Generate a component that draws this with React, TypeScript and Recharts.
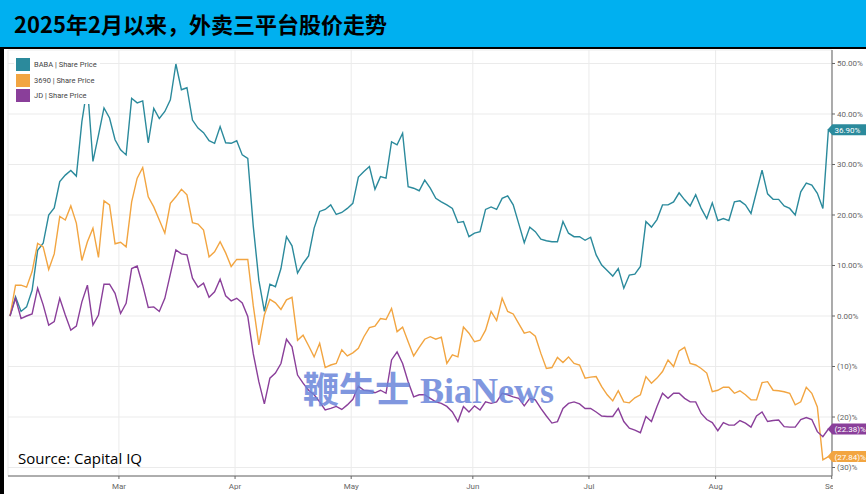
import React from "react";
import {
  LineChart,
  Line,
  XAxis,
  YAxis,
  CartesianGrid,
} from "recharts";

// one value per trading day, Feb 2025 -> 1 Sep 2025, % change since start
const babaValues = [
  0, 3.8, 0.9, 1.8, 5.1, 13, 14.4, 20, 21.4, 26.6, 27.9, 28.8, 27.7, 38.5, 45.5,
  30.6, 35.8, 41.2, 39.2, 34.9, 32.9, 31.9, 43.1, 42.2, 42.6, 34.3, 41.1, 39.1,
  40.5, 42.8, 49.9, 44.8, 45.2, 38.8, 37.2, 36.3, 34.7, 34.2, 37.5, 34.3, 34.2,
  34.7, 31.9, 31.2,
  17.7, 7.1, 0.9, 6.3, 5.8, 9.4, 15.7, 13.9, 8.5, 10.4, 11.9, 17.4, 20.7, 21.1,
  22.0, 20.1, 20.5, 21.3, 22.3, 27.5, 28.6, 29.6, 25.1, 27.6, 27.3, 34.5, 33.9,
  36.2, 25.6, 25.3, 24.8, 26.9, 25.3, 23.3, 22.6, 22.0, 21.3, 18.5, 18.7, 15.7,
  16.4, 16.7, 21.1, 21.6, 21.1, 23.3, 23.8, 22.0, 18.3, 14.5,
  17.6, 16.7, 15.2, 14.9, 14.7, 14.7, 18.7, 16.4, 15.7, 15.7, 15.0, 15.6, 12.1,
  10.1, 9.0, 7.9, 9.4, 5.5, 8.1, 8.3, 9.8, 18.7, 17.6, 19.1, 22.0, 22.0, 22.6,
  24.4, 23.0, 21.8, 24.0, 21.3, 19.3, 22.4, 18.9, 19.3, 18.9, 22.6, 22.8, 22.0,
  20.3, 24.6, 28.9, 24.2, 23.1, 23.1, 21.8, 21.3, 20.0, 24.6, 26.3, 25.9, 24.3,
  21.3, 36.9,
];

const meituanValues = [
  0, 6.1, 6.1, 5.7, 8.8, 14.4, 13.7, 9.2, 12.3, 19.7, 19.0, 21.8, 18.4, 11.0,
  14.7, 17.4, 11.6, 22.8, 22.0, 14.3, 14.6, 13.7, 22.6, 27.3, 29.4, 23.6, 21.6,
  19.0, 16.4, 22.3, 23.6, 25.1, 24.0, 18.5, 18.2, 17.0, 11.7, 12.7, 14.7, 12.5,
  9.8, 11.2, 11.2, 11.2,
  2.0, -5.7, 0.2, 3.3, 2.6, 1.3, 3.2, 3.7, -4.8, -3.8, -5.9, -8.1, -5.4, -10.2,
  -9.7, -9.4, -6.7, -7.9, -7.3, -6.4, -4.1, -2.3, -2.0, -0.5, -0.7, 1.5, -3.1,
  -2.2, -5.1, -7.9, -6.2, -4.6, -4.1, -4.6, -4.2, -9.4, -7.7, -8.1, -2.2, -3.4,
  -5.1, -4.8, -2.8, 0.9, -0.9, 3.5, 0.9, 0.4, -1.5, -3.4,
  -3.1, -4.0, -7.4, -10.4, -10.2, -8.2, -9.2, -8.1, -9.4, -9.7, -12.3, -12.1,
  -12.0, -14.0, -15.6, -16.8, -14.8, -17.0, -17.2, -16.2, -15.6, -12.0, -13.3,
  -12.3, -11.0, -8.7, -10.0, -6.9, -6.2, -9.4, -9.7, -10.4, -11.3, -15.0, -14.7,
  -14.1, -14.1, -15.3, -14.8, -15.6, -16.6, -16.6, -13.2, -13.0, -14.7, -14.8,
  -15.0, -15.3, -17.6, -17.0, -14.1, -15.3, -18.0, -28.5, -27.84,
];

const jdValues = [
  0, 3.5, -0.5, 0, 0.4, 5.5, 2.2, -1.8, -1.1, 3.5, 0.2, -2.8, -2.0, 2.8, 6.1,
  -1.8, 0.2, 6.3, 6.3, 4.5, 0.5, 2.5, 9.4, 9.9, 6.1, 1.7, 1.8, 0.9, 3.5, 8.3,
  13.1, 12.3, 12.1, 7.5, 5.7, 6.5, 3.7, 4.8, 7.3, 4.0, 3.0, 3.5, 2.6, -0.1,
  -7.5, -13.0, -17.4, -12.3, -11.3, -9.4, -4.6, -6.1, -11.7, -13.3, -14.7,
  -15.6, -17.0, -18.6, -18.3, -17.9, -18.5, -17.6, -16.5, -13.9, -14.7, -14.8,
  -15.2, -14.7, -15.3, -8.7, -7.1, -9.4, -13.0, -16.0, -15.6, -15.6, -16.3,
  -17.0, -17.3, -17.9, -19.0, -20.9, -17.9, -19.0, -17.8, -18.6, -17.0, -17.3,
  -17.0, -15.3, -15.6, -16.0, -16.3, -17.8,
  -16.3, -16.6, -18.3, -19.8, -21.2, -20.9, -18.3, -17.3, -17.0, -17.4, -18.3,
  -18.3, -19.0, -19.8, -19.9, -19.9, -18.3, -20.9, -22.2, -22.6, -23.1, -19.9,
  -20.9, -17.9, -15.3, -16.3, -15.3, -15.3, -16.3, -17.0, -17.0, -19.3, -20.5,
  -21.1, -22.7, -21.1, -21.6, -21.6, -20.7, -21.2, -22.0, -19.8, -19.0, -20.9,
  -20.7, -20.6, -21.9, -22.0, -22.0, -20.5, -20.1, -20.5, -22.9, -23.9, -22.38,
];

// month boundaries, in trading-day index units
const monthLabels = ["Mar", "Apr", "May", "Jun", "Jul", "Aug", "Sep"];
const monthTicks = [19.7, 40.7, 61.7, 83.7, 104.7, 127.6, 148.6];
const yTicks = [-30, -20, -10, 0, 10, 20, 30, 40, 50];

const series = [
  { key: "baba", name: "BABA | Share Price", color: "#2B8A9C", values: babaValues },
  { key: "meituan", name: "3690 | Share Price", color: "#F2A541", values: meituanValues },
  { key: "jd", name: "JD | Share Price", color: "#8A3F9A", values: jdValues },
];

const data = babaValues.map((_, i) => ({
  i,
  baba: babaValues[i],
  meituan: meituanValues[i],
  jd: jdValues[i],
}));

const LAST = babaValues.length - 1;

const pct = (v: number) =>
  v >= 0 ? `${v.toFixed(2)}%` : `(${(-v).toFixed(2)})%`;

const yFmt = (v: number) => (v >= 0 ? `${v.toFixed(2)}%` : `(${-v})%`);

function MonthTick(props: any) {
  const { x, y, index } = props;
  return (
    <g clipPath="url(#xclip)">
      <text
        x={x}
        y={y + 8}
        textAnchor="middle"
        fontSize={8}
        fill="#666"
        fontFamily="Roboto, sans-serif"
      >
        {monthLabels[index] ?? ""}
      </text>
    </g>
  );
}

const endTag = (color: string) => (props: any) => {
  const { x, y, index, value } = props;
  if (index !== LAST) return <g />;
  return (
    <g>
      <polygon
        points={`${x - 1},${y} ${x + 4},${y - 5.5} ${x + 40},${y - 5.5} ${x + 40},${y + 5.5} ${x + 4},${y + 5.5}`}
        fill={color}
      />
      <text
        x={x + 6}
        y={y + 3}
        fontSize={8}
        fill="#fff"
        fontFamily="Roboto, sans-serif"
      >
        {pct(value)}
      </text>
    </g>
  );
};

export default function App() {
  return (
    <div
      style={{
        position: "fixed",
        left: 0,
        top: 0,
        width: 866,
        height: 494,
        background: "#fff",
        overflow: "hidden",
      }}
    >
      <LineChart
        width={866}
        height={494}
        data={data}
        margin={{ top: 50, right: 0, bottom: 0, left: 8 }}
        style={{ position: "absolute", left: 0, top: 0 }}
      >
        <defs>
          <clipPath id="xclip">
            <rect x={0} y={0} width={833} height={494} />
          </clipPath>
        </defs>
        <CartesianGrid stroke="#ebebeb" strokeWidth={1} />
        <XAxis
          dataKey="i"
          type="number"
          domain={[-0.36, 148.65]}
          allowDataOverflow
          ticks={monthTicks}
          tick={<MonthTick />}
          height={18}
          tickSize={3}
          stroke="#666"
          interval={0}
        />
        <YAxis
          orientation="right"
          domain={[-31.68, 52.67]}
          allowDataOverflow
          ticks={yTicks}
          tickFormatter={yFmt}
          width={34}
          tickSize={3}
          tickMargin={2}
          stroke="#666"
          tick={{ fontSize: 8, fill: "#666", fontFamily: "Roboto, sans-serif" }}
          interval={0}
        />
        {series.map((s) => (
          <Line
            key={s.key}
            dataKey={s.key}
            type="linear"
            stroke={s.color}
            strokeWidth={1.4}
            dot={false}
            isAnimationActive={false}
            label={endTag(s.color)}
          />
        ))}
      </LineChart>

      {/* title bar */}
      <div
        style={{
          position: "absolute",
          left: 0,
          top: 0,
          width: 866,
          height: 47,
          background: "#00B0F0",
          fontFamily: "'Noto Sans CJK SC', sans-serif",
          fontWeight: 700,
          fontSize: 22,
          lineHeight: "46px",
          paddingLeft: 14,
          boxSizing: "border-box",
          color: "#000",
        }}
      >
        2025年2月以来，外卖三平台股价走势
      </div>
      <div style={{ position: "absolute", left: 0, top: 47, width: 866, height: 2, background: "#000" }} />
      <div style={{ position: "absolute", left: 0, top: 47, width: 4, height: 447, background: "#000" }} />

      {/* legend */}
      <div
        style={{
          position: "absolute",
          left: 14,
          top: 55,
          width: 86,
          height: 49,
          background: "#fff",
          fontFamily: "Roboto, sans-serif",
          fontSize: 7.5,
          color: "#444",
        }}
      >
        {series.map((s, k) => (
          <div
            key={s.key}
            style={{ position: "absolute", left: 2, top: 3 + k * 15.5, display: "flex", alignItems: "center" }}
          >
            <div style={{ width: 14, height: 13, background: s.color, marginRight: 4 }} />
            <span>{s.name}</span>
          </div>
        ))}
      </div>

      {/* watermark */}
      <div
        style={{
          position: "absolute",
          left: 303,
          top: 371,
          fontFamily: "'Liberation Serif', 'Noto Sans CJK SC', serif",
          fontWeight: 700,
          fontSize: 36,
          lineHeight: "40px",
          color: "#6B86DA",
          opacity: 0.85,
          whiteSpace: "nowrap",
        }}
      >
        鞭牛士 BiaNews
      </div>

      {/* source */}
      <div
        style={{
          position: "absolute",
          left: 18,
          top: 448,
          fontFamily: "'Open Sans', sans-serif",
          fontSize: 15,
          color: "#000",
        }}
      >
        Source: Capital IQ
      </div>
    </div>
  );
}
